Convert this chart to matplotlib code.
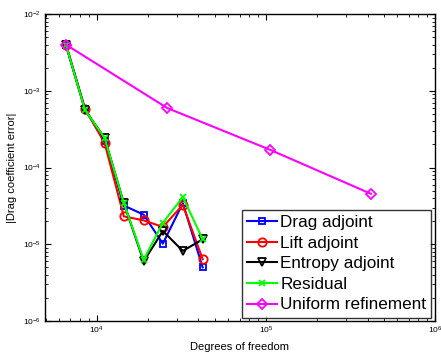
import numpy as np
import matplotlib
matplotlib.use('Agg')
import matplotlib.pyplot as plt

plt.rcParams['font.family'] = ['Liberation Sans', 'DejaVu Sans']

dof = [6580, 8540, 11150, 14480, 18970, 24640, 32350, 42360]
drag_adj = [4.0e-3, 5.8e-4, 2.2e-4, 3.2e-5, 2.43e-5, 1.02e-5, 3.43e-5, 5.0e-6]
lift_adj = [4.0e-3, 5.8e-4, 2.09e-4, 2.31e-5, 2.05e-5, 1.68e-5, 3.27e-5, 6.4e-6]
entropy_adj = [4.0e-3, 5.6e-4, 2.43e-4, 3.44e-5, 6.0e-6, 1.49e-5, 8.2e-6, 1.16e-5]
residual = [4.0e-3, 5.6e-4, 2.43e-4, 3.44e-5, 6.3e-6, 1.9e-5, 4.12e-5, 1.17e-5]

dof_unif = [6580, 26180, 105700, 419000]
uniform = [4.0e-3, 5.96e-4, 1.71e-4, 4.55e-5]

fig = plt.figure(figsize=(4.41, 3.52), dpi=100)
ax = fig.add_axes([0.102, 0.088, 0.884, 0.872])

ax.loglog(dof, drag_adj, 's-', color='b', lw=1.5, ms=5, mfc='none', mew=1.3, label='Drag adjoint')
ax.loglog(dof, lift_adj, 'o-', color='r', lw=1.5, ms=6, mfc='none', mew=1.3, label='Lift adjoint')
ax.loglog(dof, entropy_adj, 'v-', color='k', lw=1.5, ms=6, mfc='none', mew=1.3, label='Entropy adjoint')
ax.loglog(dof, residual, 'x-', color=(0, 1, 0), lw=1.5, ms=5, mew=1.3, label='Residual')
ax.loglog(dof_unif, uniform, 'D-', color=(1, 0, 1), lw=1.5, ms=5, mfc='none', mew=1.3, label='Uniform refinement')

ax.set_xlim(4950, 1e6)
ax.set_ylim(1e-6, 1e-2)
ax.tick_params(which='both', direction='in', top=True, right=True, labelsize=6, pad=3)
ax.tick_params(which='major', length=4)
ax.tick_params(which='minor', length=2)
for s in ax.spines.values():
    s.set_linewidth(1.0)

ax.set_xlabel('Degrees of freedom', fontsize=8, labelpad=4)
ax.set_ylabel('|Drag coefficient error|', fontsize=8, labelpad=4)

leg = ax.legend(loc='lower right', fontsize=12.3, frameon=True, fancybox=False,
                edgecolor='k', handlelength=1.75, handletextpad=0.2, borderpad=0.3,
                labelspacing=0.33, borderaxespad=0.2)
leg.get_frame().set_linewidth(1.0)

fig.savefig('out.png', dpi=100)
